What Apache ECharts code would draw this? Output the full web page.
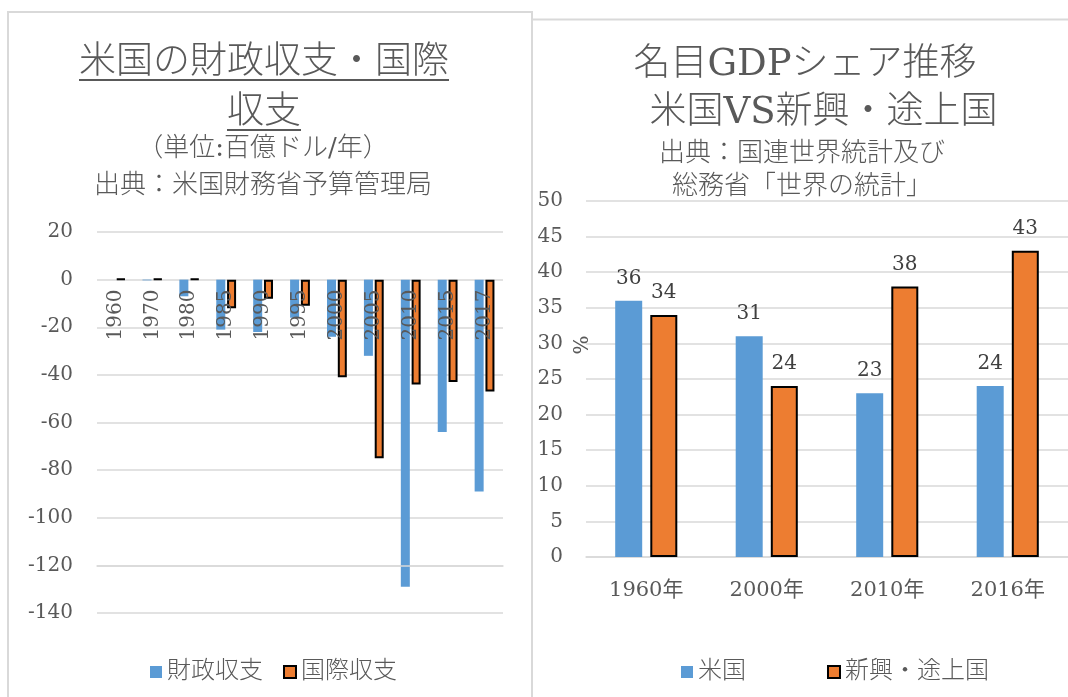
<!DOCTYPE html>
<html>
<head>
<meta charset="utf-8">
<script src="https://cdn.jsdelivr.net/npm/echarts@6/dist/echarts.min.js"></script>
<style>
html, body { margin: 0; padding: 0; background: #fff; overflow: hidden; }
#main { width: 1068px; height: 697px; }
</style>
</head>
<body>
<div id="main"></div>
<script>
// 左：米国の財政収支・国際収支（百億ドル/年）
var yearsL = ['1960', '1970', '1980', '1985', '1990', '1995', '2000', '2005', '2010', '2015', '2017'];
var fiscal = [0, -0.3, -7, -21, -22, -16, -24, -32, -129, -64, -89];
var current = [0.3, 0.3, 0.3, -12, -8, -11, -41, -75, -44, -43, -47];
var ticksL = { min: -140, max: 20, interval: 20 };

// 右：名目GDPシェア推移（%）
var yearsR = ['1960年', '2000年', '2010年', '2016年'];
var usShare = [36, 31, 23, 24];
var emShare = [34, 24, 38, 43];
var ticksR = { min: 0, max: 50, interval: 5 };

var FONT = "'DejaVu Serif', 'Noto Sans CJK JP', sans-serif";
var TXT = '#595959';
var GRID = '#d9d9d9';
var BLUE = '#5B9BD5';
var ORANGE = '#ED7D31';

// タイトル下線の長さを測る
function textWidth(s, size, weight) {
    var ctx = document.createElement('canvas').getContext('2d');
    ctx.font = (weight || 'normal') + ' ' + size + 'px ' + FONT;
    return ctx.measureText(s).width;
}
var t1 = '米国の財政収支・国際', t2 = '収支';
var TS = 37, TW = 300;
var w1 = textWidth(t1, TS, TW), w2 = textWidth(t2, TS, TW);
var cxL = 264;
var gridL = { left: 97, top: 232, width: 406, height: 381 };

var myChart = echarts.init(document.getElementById('main'));
var option = {
    animation: false,
    textStyle: { fontFamily: FONT },
    title: [
        {
            text: t1 + '\n' + t2, left: cxL, top: 38, padding: 0, textAlign: 'center',
            textStyle: { fontFamily: FONT, fontSize: TS, fontWeight: TW, color: TXT, lineHeight: 50 }
        },
        {
            text: '（単位:百億ドル/年）\n出典：米国財務省予算管理局', left: 263, top: 131, padding: 0, textAlign: 'center',
            textStyle: { fontFamily: FONT, fontSize: 26, fontWeight: TW, color: TXT, lineHeight: 37 }
        },
        {
            text: '名目GDPシェア推移\n　米国VS新興・途上国', left: 805, top: 41, padding: 0, textAlign: 'center',
            textStyle: { fontFamily: FONT, fontSize: TS, fontWeight: TW, color: TXT, lineHeight: 48 }
        },
        {
            text: '出典：国連世界統計及び\n総務省「世界の統計」', left: 802, top: 138, padding: 0, textAlign: 'center',
            textStyle: { fontFamily: FONT, fontSize: 26, fontWeight: TW, color: TXT, lineHeight: 33 }
        }
    ],
    graphic: [
        { type: 'rect', silent: true, shape: { x: 8, y: 12, width: 524, height: 700 }, style: { fill: 'none', stroke: GRID, lineWidth: 2 } },
        { type: 'rect', silent: true, shape: { x: 532, y: 19.5, width: 560, height: 700 }, style: { fill: 'none', stroke: GRID, lineWidth: 2 } },
        { type: 'line', silent: true, shape: { x1: cxL - w1 / 2, y1: 80, x2: cxL + w1 / 2, y2: 80 }, style: { stroke: TXT, lineWidth: 2 } },
        { type: 'line', silent: true, shape: { x1: cxL - w2 / 2, y1: 130, x2: cxL + w2 / 2, y2: 130 }, style: { stroke: TXT, lineWidth: 2 } }
    ],
    legend: [
        {
            data: ['財政収支', '国際収支'], left: 145, top: 655, icon: 'rect',
            itemWidth: 12, itemHeight: 12, itemGap: 20,
            textStyle: { fontFamily: FONT, fontSize: 24, fontWeight: TW, color: TXT }
        },
        {
            data: ['米国', '新興・途上国'], left: 676, top: 655, icon: 'rect',
            itemWidth: 12, itemHeight: 12, itemGap: 81,
            textStyle: { fontFamily: FONT, fontSize: 24, fontWeight: TW, color: TXT }
        }
    ],
    grid: [
        gridL,
        { left: 586, top: 201, width: 494, height: 356 }
    ],
    xAxis: [
        {
            type: 'category', gridIndex: 0, data: yearsL, z: 5,
            axisLine: { onZero: true, lineStyle: { color: GRID, width: 1.5 } },
            axisTick: { show: false },
            axisLabel: { rotate: 90, margin: 10, fontSize: 20, color: TXT, fontFamily: FONT }
        },
        {
            type: 'category', gridIndex: 1, data: yearsR,
            axisLine: { lineStyle: { color: GRID, width: 1.5 } },
            axisTick: { show: false },
            axisLabel: { margin: 23, fontSize: 21, color: TXT, fontFamily: FONT }
        }
    ],
    yAxis: [
        {
            type: 'value', gridIndex: 0, min: ticksL.min, max: ticksL.max, interval: ticksL.interval,
            axisLine: { show: false }, axisTick: { show: false },
            splitLine: { lineStyle: { color: GRID, width: 1.5 } },
            axisLabel: { margin: 24, fontSize: 20, color: TXT, fontFamily: FONT }
        },
        {
            type: 'value', gridIndex: 1, min: ticksR.min, max: ticksR.max, interval: ticksR.interval,
            name: '%', nameLocation: 'middle', nameGap: -7, nameMoveOverlap: false,
            nameTextStyle: { fontSize: 20, color: TXT, fontFamily: FONT, padding: [0, 0, 0, 68] },
            axisLine: { show: false }, axisTick: { show: false },
            splitLine: { lineStyle: { color: GRID, width: 1.5 } },
            axisLabel: { margin: 23, fontSize: 20, color: TXT, fontFamily: FONT }
        }
    ],
    series: [
        {
            name: '財政収支', type: 'bar', xAxisIndex: 0, yAxisIndex: 0,
            barWidth: 9, barGap: '20%', data: fiscal,
            itemStyle: { color: BLUE }
        },
        {
            name: '国際収支', type: 'bar', xAxisIndex: 0, yAxisIndex: 0,
            barWidth: 9, barGap: '20%', data: current,
            itemStyle: { color: ORANGE, borderColor: '#000', borderWidth: 2 }
        },
        {
            name: '米国', type: 'bar', xAxisIndex: 1, yAxisIndex: 1,
            barWidth: 27, barGap: '30%', data: usShare,
            itemStyle: { color: BLUE },
            label: { show: true, position: 'top', distance: 12, fontSize: 20, color: '#404040', fontFamily: FONT }
        },
        {
            name: '新興・途上国', type: 'bar', xAxisIndex: 1, yAxisIndex: 1,
            barWidth: 27, barGap: '30%', data: emShare,
            itemStyle: { color: ORANGE, borderColor: '#000', borderWidth: 2 },
            label: { show: true, position: 'top', distance: 12, fontSize: 20, color: '#404040', fontFamily: FONT }
        }
    ]
};
myChart.setOption(option);

// 横軸を0の位置へ移す（ラベルも0線の下に出す）
var y0 = myChart.convertToPixel({ yAxisIndex: 0 }, 0);
myChart.setOption({ xAxis: [{ offset: y0 - (gridL.top + gridL.height) }, {}] });
</script>
</body>
</html>
